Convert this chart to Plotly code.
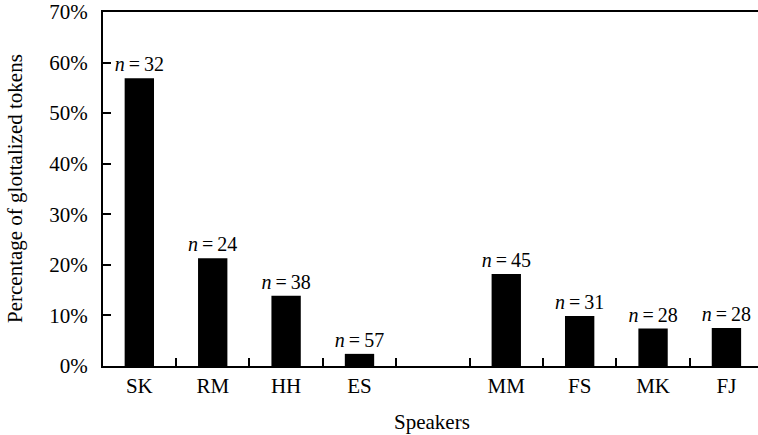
import plotly.graph_objects as go

group1 = ["SK", "RM", "HH", "ES"]
group2 = ["MM", "FS", "MK", "FJ"]
values1 = [0.569, 0.213, 0.139, 0.024]
values2 = [0.182, 0.099, 0.074, 0.075]
counts1 = [32, 24, 38, 57]
counts2 = [45, 31, 28, 28]
gap = " "
y_ticks = [0, 0.1, 0.2, 0.3, 0.4, 0.5, 0.6, 0.7]
y_ticklabels = ["0%", "10%", "20%", "30%", "40%", "50%", "60%", "70%"]

categories = group1 + [gap] + group2
speakers = group1 + group2
values = values1 + values2
counts = counts1 + counts2

FONT = "Liberation Serif"
FS = 21

fig = go.Figure()
fig.add_trace(go.Bar(
    x=speakers, y=values,
    marker=dict(color="black", line=dict(width=0)),
    width=0.4,
    text=[f"<i>n</i>\u2009=\u2009{c}" for c in counts],
    textposition="outside",
    constraintext="none",
    textfont=dict(family=FONT, size=20, color="black"),
    cliponaxis=False,
    hoverinfo="skip",
))

fig.update_layout(
    width=758, height=435,
    margin=dict(l=103, r=0, t=12, b=69),
    plot_bgcolor="white", paper_bgcolor="white",
    showlegend=False,
    font=dict(family=FONT, size=FS, color="black"),
    xaxis=dict(
        type="category",
        categoryorder="array", categoryarray=categories,
        range=[-0.495, 8.43],
        tickson="boundaries",
        ticks="inside", ticklen=8, tickwidth=2, tickcolor="black",
        showline=True, linewidth=2, linecolor="black", mirror=True,
        showgrid=False,
        automargin=False,
        tickfont=dict(family=FONT, size=FS),
    ),
    yaxis=dict(
        range=[0, 0.7],
        tickmode="array", tickvals=y_ticks, ticktext=y_ticklabels,
        ticks="inside", ticklen=8, tickwidth=2, tickcolor="black",
        showline=True, linewidth=2, linecolor="black",
        showgrid=False, zeroline=False,
        automargin=False,
        ticklabeloverflow="allow",
        ticklabelstandoff=9,
        tickfont=dict(family=FONT, size=FS),
    ),
    annotations=[
        dict(text="Speakers", xref="paper", yref="paper", x=(432 - 103) / 655, y=-56 / 354,
             xanchor="center", yanchor="middle", showarrow=False,
             font=dict(family=FONT, size=FS)),
        dict(text="Percentage of glottalized tokens", xref="paper", yref="paper",
             x=-88 / 655, y=0.5, xanchor="center", yanchor="middle", textangle=-90,
             showarrow=False, font=dict(family=FONT, size=FS)),
    ],
)

fig.write_html("out.html", config={"displayModeBar": False},
               post_script="document.body.style.margin='0';")
